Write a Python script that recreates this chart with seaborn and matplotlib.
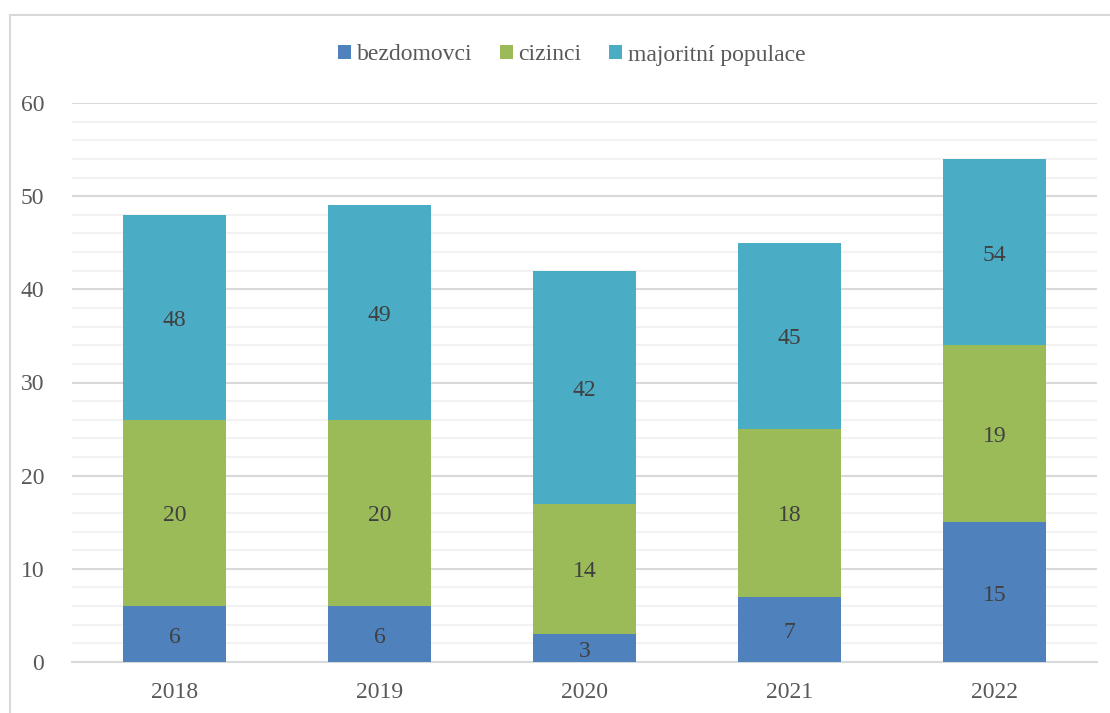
import matplotlib
matplotlib.use("Agg")
import matplotlib.pyplot as plt
from matplotlib.patches import Rectangle, Patch
from matplotlib.ticker import MultipleLocator
from matplotlib.transforms import offset_copy
import numpy as np
import pandas as pd
import seaborn as sns

# Data
years = ["2018", "2019", "2020", "2021", "2022"]
bezdomovci = [6, 6, 3, 7, 15]
cizinci = [20, 20, 14, 18, 19]
majoritni_populace = [48, 49, 42, 45, 54]   # value at the top of each column

series_names = ["bezdomovci", "cizinci", "majoritní populace"]
colors = ["#4F81BD", "#9BBB59", "#4BACC6"]

sns.set_theme(style="white")
plt.rcParams["font.family"] = ["Liberation Serif", "DejaVu Serif"]

df = pd.DataFrame({
    "rok": years,
    "bezdomovci": bezdomovci,
    "cizinci": cizinci,
    "majoritni": majoritni_populace,
})
df["cizinci_top"] = df["bezdomovci"] + df["cizinci"]

fig = plt.figure(figsize=(11.10, 7.13), dpi=100)
ax = fig.add_axes([72 / 1110, 1 - 662 / 713, (1097 - 72) / 1110, (662 - 103) / 713])

# Columns drawn back to front: full column, then cizinci stacked on bezdomovci, then bezdomovci
sns.barplot(data=df, x="rok", y="majoritni", color=colors[2], width=0.5,
            saturation=1, linewidth=0, ax=ax, zorder=3)
sns.barplot(data=df, x="rok", y="cizinci_top", color=colors[1], width=0.5,
            saturation=1, linewidth=0, ax=ax, zorder=4)
sns.barplot(data=df, x="rok", y="bezdomovci", color=colors[0], width=0.5,
            saturation=1, linewidth=0, ax=ax, zorder=5)

# Value labels centred in each visible segment
label_color = "#404040"
lbl_tr = offset_copy(ax.transData, fig=fig, y=-3, units="dots")
for i, row in df.iterrows():
    b, c, m = row["bezdomovci"], row["cizinci"], row["majoritni"]
    for val, yc in ((b, b / 2), (c, b + c / 2), (m, (b + c + m) / 2)):
        ax.text(i, yc, f"{val}", ha="center", va="center", fontsize=17,
                color=label_color, zorder=6, transform=lbl_tr)

ax.set_ylim(0, 60)
ax.set_xlim(-0.5, 4.5)
ax.yaxis.set_major_locator(MultipleLocator(10))
ax.yaxis.set_minor_locator(MultipleLocator(2))
ax.grid(axis="y", which="major", color="#D9D9D9", linewidth=1.5, zorder=1)
ax.grid(axis="y", which="minor", color="#F2F2F2", linewidth=1.5, zorder=0)
ax.set_axisbelow(True)
for s in ["top", "right", "left"]:
    ax.spines[s].set_visible(False)
ax.spines["bottom"].set_color("#D9D9D9")
ax.spines["bottom"].set_linewidth(1.5)

ax.set_xlabel("")
ax.set_ylabel("")
ax.tick_params(axis="both", which="both", length=0, labelsize=17,
               labelcolor="#595959")
ax.tick_params(axis="y", pad=20)
ax.tick_params(axis="x", pad=14.5)

handles = [Patch(facecolor=c, edgecolor="none") for c in colors]
fig.legend(handles, series_names, loc="center", bbox_to_anchor=(0.515, 1 - 55 / 713),
           ncol=3, frameon=False, fontsize=17, labelcolor="#595959",
           handlelength=0.55, handleheight=0.55, handletextpad=0.25, columnspacing=1.15)

# Outer chart frame
fig.patches.append(Rectangle((10 / 1110, -0.1), 1.2, 1.1 - 15 / 713,
                             transform=fig.transFigure, fill=False,
                             edgecolor="#D9D9D9", linewidth=1.5))

fig.savefig("out.png", dpi=100, facecolor="white")
